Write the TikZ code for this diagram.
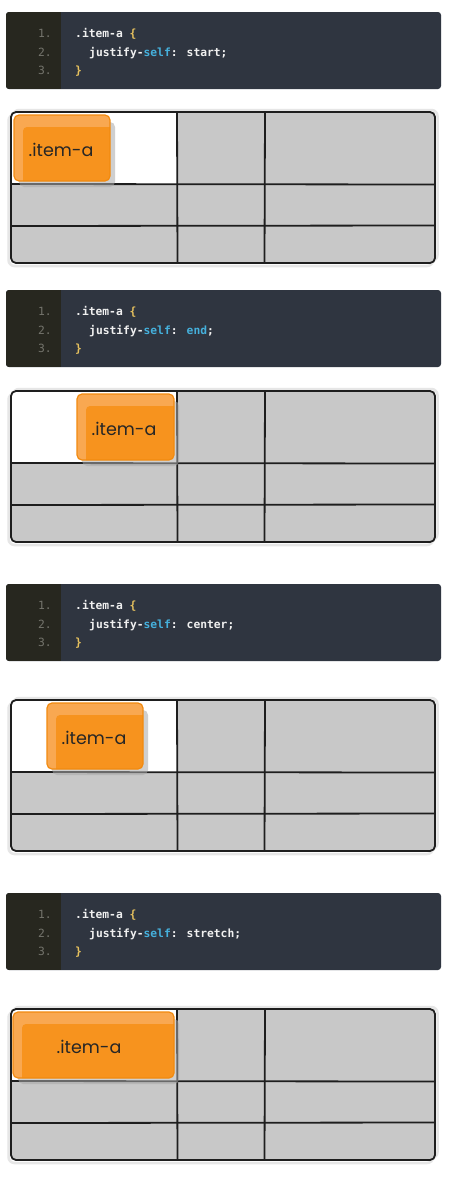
\documentclass[tikz,border=0pt]{standalone}
\usepackage{fontspec}
\newfontfamily\codefont{DejaVu Sans Mono}
\newfontfamily\itemfont{Poppins}
\definecolor{gutter}{HTML}{27271F}
\definecolor{codebg}{HTML}{2F3540}
\definecolor{lnum}{HTML}{74746C}
\definecolor{ctext}{HTML}{F0F0F0}
\definecolor{cblue}{HTML}{45B0DC}
\definecolor{cbrace}{HTML}{E6C15E}
\definecolor{cellgrey}{HTML}{C8C8C8}
\definecolor{gridline}{HTML}{1E1E1E}
\definecolor{itemorange}{HTML}{F7931E}
\definecolor{itemlight}{HTML}{F9A851}
\definecolor{itemedge}{HTML}{F28A0F}
\definecolor{shadowgrey}{HTML}{A8A8A8}
\definecolor{halo}{HTML}{E6E6E6}
\tikzset{
  codeline/.style={inner sep=0pt, font=\codefont\bfseries\fontsize{11.3}{13}\selectfont, text=ctext},
  numline/.style={inner sep=0pt, font=\codefont\fontsize{11.3}{13}\selectfont, text=lnum},
  gridstroke/.style={draw=gridline, line width=1.8pt, line cap=round},
  itemtext/.style={inner sep=0pt, font=\itemfont\fontsize{17.5}{20}\selectfont, text=black!85},
}
% #1 top y, #2 id, #3 value, #4 value colour
\newcommand\codeblock[4]{%
  \fill[codebg, rounded corners=3pt] (6,#1) rectangle (441,#1+77);
  \begin{scope}
    \clip[rounded corners=3pt] (6,#1) rectangle (441,#1+77);
    \fill[gutter] (6,#1) rectangle (61,#1+77);
  \end{scope}
  \node[numline, anchor=base east] (n1#2) at (52,#1+25.5) {1.};
  \node[numline, anchor=base east] (n2#2) at (52,#1+44) {2.};
  \node[numline, anchor=base east] (n3#2) at (52,#1+62.5) {3.};
  \node[codeline, anchor=base west] (c1#2) at (75,#1+25.5) {.item-a \textcolor{cbrace}{\{}};
  \node[codeline, anchor=base west] (c2#2) at (89,#1+44) {justify-\textcolor{cblue}{self}: \textcolor{#4}{#3};};
  \node[codeline, anchor=base west] (c3#2) at (75,#1+62.5) {\textcolor{cbrace}{\}}};
}
% #1 grid top y
\newcommand\gridpanel[1]{%
  \draw[halo, line width=2.5pt, rounded corners=6pt] (8.5,#1+2.5) rectangle (433,#1+154);
  \draw[halo, line width=2.5pt, rounded corners=6pt] (13,#1-2) rectangle (437.5,#1+149);
  \fill[cellgrey, rounded corners=5pt] (11,#1) rectangle (435,#1+151);
  \begin{scope}
    \clip[rounded corners=5pt] (11,#1) rectangle (435,#1+151);
    \fill[white] (11,#1) rectangle (177,#1+72);
  \end{scope}
  \draw[gridstroke] (11,#1+72) -- (435,#1+72.5);
  \draw[gridstroke] (11,#1+114) -- (435,#1+113.5);
  \draw[gridstroke] (177,#1) -- (177.5,#1+151);
  \draw[gridstroke] (265,#1) -- (264.5,#1+151);
  \draw[gridstroke, rounded corners=5pt] (11,#1) rectangle (435,#1+151);
}
% #1 x1, #2 x2, #3 grid top, #4 text x, #5 name
\newcommand\itembox[5]{%
  \fill[shadowgrey, opacity=0.55, rounded corners=5pt] (#1+5,#3+10) rectangle (#2+5,#3+75);
  \begin{scope}
    \clip[rounded corners=5pt] (#1,#3+3) rectangle (#2,#3+69);
    \fill[itemlight] (#1,#3+3) rectangle (#2,#3+69);
    \fill[itemorange, rounded corners=4pt] (#1+9,#3+15) rectangle (#2+10,#3+85);
  \end{scope}
  \draw[itemedge, line width=1.2pt, rounded corners=5pt] (#1,#3+3) rectangle (#2,#3+69);
  \node[itemtext] (#5) at (#4,#3+38) {.item-a};
}
\begin{document}
\begin{tikzpicture}[x=1pt,y=-1pt]
\useasboundingbox (0,0) rectangle (450,1183);
\fill[white] (0,0) rectangle (450,1183);
% panel 1: start
\codeblock{12}{a}{start}{ctext}
\gridpanel{112}
\itembox{14}{110}{112}{61}{itemA}
% panel 2: end
\codeblock{290}{b}{end}{cblue}
\gridpanel{391}
\itembox{77}{174}{391}{124}{itemB}
% panel 3: center
\codeblock{584}{c}{center}{ctext}
\gridpanel{700}
\itembox{47}{143}{700}{94}{itemC}
% panel 4: stretch
\codeblock{893}{d}{stretch}{ctext}
\gridpanel{1009}
\itembox{13}{174}{1009}{89}{itemD}
\end{tikzpicture}
\end{document}
